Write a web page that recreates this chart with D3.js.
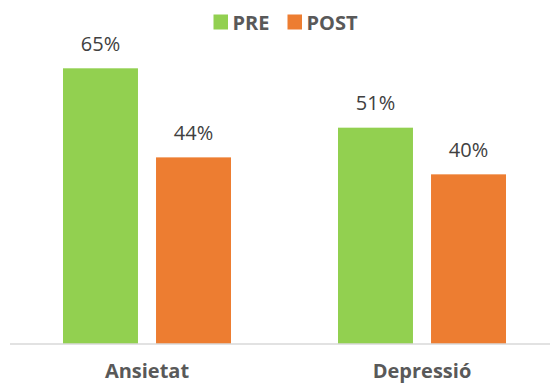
<!DOCTYPE html>
<html><head><meta charset="utf-8">
<script src="https://cdn.jsdelivr.net/npm/d3@7"></script>
<style>body{margin:0;background:#fff}svg{display:block}</style>
</head><body>
<svg id="c" width="550" height="385"></svg>
<script>
const categories = ["Ansietat", "Depressió"];
const seriesNames = ["PRE", "POST"];
const preValues = [65, 51];
const postValues = [44, 40];
const colors = ["#92d050", "#ed7d31"];

const svg = d3.select("#c");
const font = "'Open Sans', sans-serif";
const x0 = d3.scaleBand().domain(categories).range([9.5, 559.5]).padding(0);
const x1 = d3.scaleBand().domain(seriesNames).range([53.5, 221.5]).paddingInner(0.194).paddingOuter(0);
const y = d3.scaleLinear().domain([0, 65]).range([344, 68.3]);
const series = [preValues, postValues];

const data = [];
categories.forEach((c, i) => seriesNames.forEach((s, j) => data.push({c, s, v: series[j][i], col: colors[j]})));

svg.selectAll("rect.bar").data(data).enter().append("rect")
  .attr("class", "bar")
  .attr("x", d => x0(d.c) + x1(d.s))
  .attr("width", x1.bandwidth())
  .attr("y", d => y(d.v))
  .attr("height", d => y(0) - y(d.v))
  .attr("fill", d => d.col);

svg.selectAll("text.lbl").data(data).enter().append("text")
  .attr("class", "lbl")
  .attr("x", d => x0(d.c) + x1(d.s) + x1.bandwidth() / 2)
  .attr("y", d => y(d.v) - 17.5)
  .attr("text-anchor", "middle")
  .attr("font-family", font).attr("font-size", 20).attr("fill", "#404040")
  .text(d => d.v + "%");

svg.append("line").attr("x1", 10).attr("x2", 550).attr("y1", y(0)).attr("y2", y(0))
  .attr("stroke", "#d9d9d9").attr("stroke-width", 1.5);

svg.selectAll("text.cat").data(categories).enter().append("text")
  .attr("class", "cat")
  .attr("x", d => x0(d) + x0.bandwidth() / 2)
  .attr("y", 378)
  .attr("text-anchor", "middle")
  .attr("font-family", font).attr("font-size", 20).attr("font-weight", "bold").attr("fill", "#595959")
  .text(d => d);

const legendX = [213.5, 287.5];
const lg = svg.selectAll("g.lg").data(seriesNames).enter().append("g")
  .attr("transform", (d, i) => `translate(${legendX[i]},0)`);
lg.append("rect").attr("x", 0).attr("y", 14.5).attr("width", 14.5).attr("height", 15)
  .attr("fill", (d, i) => colors[i]);
lg.append("text").attr("x", 19).attr("y", 29.5)
  .attr("font-family", font).attr("font-size", 20).attr("font-weight", "bold").attr("fill", "#595959")
  .text(d => d);
</script>
</body></html>
